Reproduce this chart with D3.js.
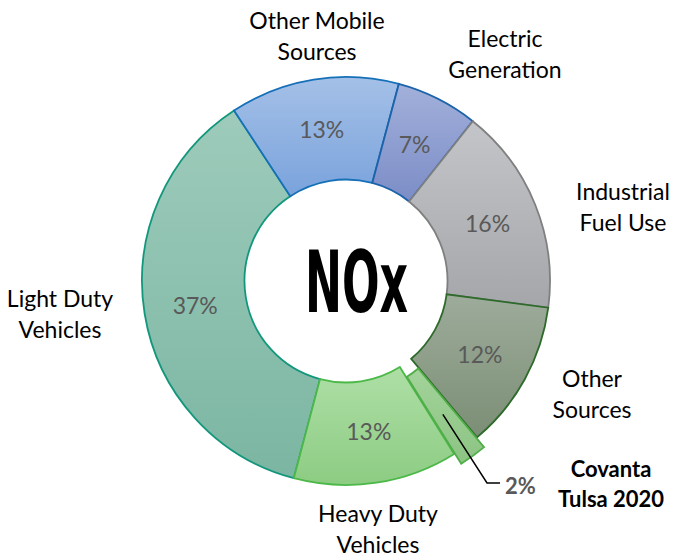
<!DOCTYPE html>
<html>
<head>
<meta charset="utf-8">
<script src="https://cdn.jsdelivr.net/npm/d3@7"></script>
<style>
  html, body { margin: 0; padding: 0; background: #ffffff; }
  svg { display: block; }
</style>
</head>
<body>
<svg id="chart" width="673" height="556"></svg>
<script>
// ---- data (clockwise, starting at the Electric Generation slice) ----
const categories = ["Electric Generation", "Industrial Fuel Use", "Other Sources", "Covanta Tulsa 2020", "Heavy Duty Vehicles", "Light Duty Vehicles", "Other Mobile Sources"];
const values = [6.5, 16.4, 11.8, 2.2, 13.0, 36.6, 13.4];
const percentLabels = ["7%", "16%", "12%", "2%", "13%", "37%", "13%"];
const nameLines = [["Electric", "Generation"], ["Industrial", "Fuel Use"], ["Other", "Sources"], ["Covanta", "Tulsa 2020"], ["Heavy Duty", "Vehicles"], ["Light Duty", "Vehicles"], ["Other Mobile", "Sources"]];
const centerTitle = "NOx";

// ---- styles / layout ----
const fillTop    = ["#a2b0da", "#c4c5c8", "#9eac9b", "#a3d39a", "#aedfa6", "#9ecbbb", "#a4c0e7"];
const fillBottom = ["#7c8dc7", "#a5a6aa", "#7b8e75", "#8cc483", "#8dcc83", "#7bb6a2", "#7aa3dc"];
const strokes    = ["#1b63aa", "#7f7f80", "#2e6a2b", "#4fae48", "#4cb848", "#13977c", "#1570b8"];
const explodeIdx = 3;
const explodeDist = 12;
// label centres relative to the pie centre (Excel-placed outside-end labels)
const labelPos = [[159, -227], [277, -74], [246, 113], null, [32, 248], [-286, 33], [-29, -245]];

const W = 673, H = 556;
const cx = 346, cy = 281, R = 204, r0 = 101.5;
const svg = d3.select("#chart");
const defs = svg.append("defs");

categories.forEach((c, i) => {
  const g = defs.append("linearGradient").attr("id", "grad" + i)
    .attr("x1", 0).attr("y1", 0).attr("x2", 0).attr("y2", 1);
  g.append("stop").attr("offset", "0%").attr("stop-color", fillTop[i]);
  g.append("stop").attr("offset", "100%").attr("stop-color", fillBottom[i]);
});

const start = 15 * Math.PI / 180;
const pie = d3.pie().sort(null).value(d => d).startAngle(start).endAngle(start + 2 * Math.PI);
const arcs = pie(values);
const arc = d3.arc().innerRadius(r0).outerRadius(R);

const root = svg.append("g").attr("transform", `translate(${cx},${cy})`);

function offsetOf(d, i) {
  if (i !== explodeIdx) return [0, 0];
  const a = (d.startAngle + d.endAngle) / 2;
  return [Math.sin(a) * explodeDist, -Math.cos(a) * explodeDist];
}

const order = [5, 6, 0, 1, 2, 4, 3];
order.forEach(i => {
  const d = arcs[i];
  const [ox, oy] = offsetOf(d, i);
  root.append("path")
    .attr("d", arc(d))
    .attr("transform", `translate(${ox},${oy})`)
    .attr("fill", `url(#grad${i})`)
    .attr("stroke", strokes[i])
    .attr("stroke-width", 1.8)
    .attr("stroke-linejoin", "miter");
});

// percentage labels
const fontMain = "Lato, 'Open Sans', sans-serif";
arcs.forEach((d, i) => {
  if (i === explodeIdx) return;
  const [x, y] = arc.centroid(d);
  root.append("text")
    .attr("x", x).attr("y", y)
    .attr("dy", "0.36em")
    .attr("text-anchor", "middle")
    .attr("font-family", fontMain)
    .attr("font-size", 23)
    .attr("fill", "#595959")
    .text(percentLabels[i]);
});

// category labels
arcs.forEach((d, i) => {
  if (!labelPos[i]) return;
  const [lx, ly] = labelPos[i];
  const t = root.append("text")
    .attr("text-anchor", "middle")
    .attr("font-family", fontMain)
    .attr("font-size", 23)
    .attr("fill", "#000000");
  nameLines[i].forEach((line, k) => {
    t.append("tspan").attr("x", lx).attr("y", ly + (k - 0.5) * 31 + 8).text(line);
  });
});

// Covanta callout
{
  const d = arcs[explodeIdx];
  const a = (d.startAngle + d.endAngle) / 2;
  const rc = (R + r0) / 2 + explodeDist;
  const p0 = [Math.sin(a) * rc, -Math.cos(a) * rc];
  const p1 = [141, 202];
  const p2 = [154, 202];
  root.append("path")
    .attr("d", d3.line()([p0, p1, p2]))
    .attr("fill", "none").attr("stroke", "#000").attr("stroke-width", 1.5);
  root.append("text")
    .attr("x", p2[0] + 5).attr("y", p2[1] + 11)
    .attr("font-family", fontMain).attr("font-weight", "bold")
    .attr("font-size", 22).attr("fill", "#595959")
    .text(percentLabels[explodeIdx]);
  const t = root.append("text")
    .attr("text-anchor", "middle")
    .attr("font-family", fontMain).attr("font-weight", "bold")
    .attr("font-size", 22).attr("fill", "#000");
  nameLines[explodeIdx].forEach((line, k) => {
    t.append("tspan").attr("x", 265).attr("y", 196 + k * 30).text(line);
  });
}

// centre title
root.append("text")
  .attr("x", -41).attr("y", 31)
  .attr("font-family", "'DejaVu Sans Condensed', 'DejaVu Sans', sans-serif")
  .attr("font-weight", "bold")
  .attr("font-size", 85)
  .attr("textLength", 103)
  .attr("lengthAdjust", "spacingAndGlyphs")
  .attr("fill", "#000")
  .text(centerTitle);
</script>
</body>
</html>
